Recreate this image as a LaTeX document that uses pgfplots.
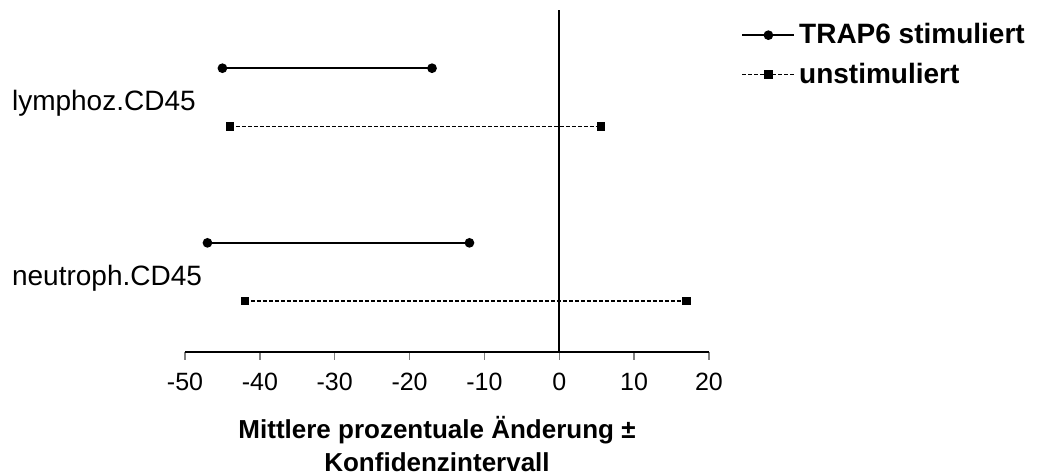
\documentclass[border=0pt]{standalone}
\usepackage{fontspec}
\setmainfont{Liberation Sans}
\usepackage{pgfplots}
\pgfplotsset{compat=1.18}
\begin{document}
\begin{tikzpicture}
\begin{axis}[
    scale only axis,
    width=262pt, height=171pt,
    xmin=-50, xmax=20,
    ymin=0.125, ymax=6,
    axis x line*=bottom,
    axis y line*=left,
    y axis line style={draw=none},
    xtick={-50,-40,-30,-20,-10,0,10,20},
    xtick align=outside,
    major tick length=4pt,
    x axis line style={line width=0.75pt},
    xtick style={line width=0.75pt},
    /pgf/number format/assume math mode=true,
    xticklabel style={font=\fontsize{12.5}{14}\selectfont, yshift=-3pt},
    ytick={1.4,4.4},
    yticklabels={neutroph.CD45,lymphoz.CD45},
    ytick style={draw=none},
    yticklabel style={anchor=west, xshift=-90pt, font=\fontsize{14}{16}\selectfont},
    xlabel={Mittlere prozentuale Änderung ±\\Konfidenzintervall},
    xlabel style={align=center, font=\bfseries\fontsize{13}{16.5}\selectfont, xshift=-5pt, yshift=-6pt},
    unbounded coords=jump,
    legend style={at={(1.05,0.985)}, anchor=north west, draw=none, fill=none,
        font=\bfseries\fontsize{14}{16}\selectfont, row sep=4pt},
    legend cell align=left,
    legend image code/.code={\draw[mark repeat=2,mark phase=2,#1] plot coordinates {(0pt,0pt)(13pt,0pt)(26pt,0pt)};},
]
\addplot[black, line width=0.8pt, mark=*, mark size=2pt] coordinates {
(-45,5)(-17,5)(nan,nan)(-47,2)(-12,2)
};
\addlegendentry{TRAP6 stimuliert}
\addplot[black, line width=0.7pt, dash pattern=on 2pt off 1pt, mark=square*, mark size=1.7pt, mark options={solid}] coordinates {
(-44,4)(5.6,4)(nan,nan)(-42,1)(17,1)
};
\addlegendentry{unstimuliert}
\draw[black, line width=0.8pt] (axis cs:0,0.125) -- (axis cs:0,6);
\coordinate (sw) at (rel axis cs:0,0);
\end{axis}
\pgfresetboundingbox
\path (sw) ++(-92.5pt,-61.5pt) rectangle ++(521.5pt,237.5pt);
\end{tikzpicture}
\end{document}
